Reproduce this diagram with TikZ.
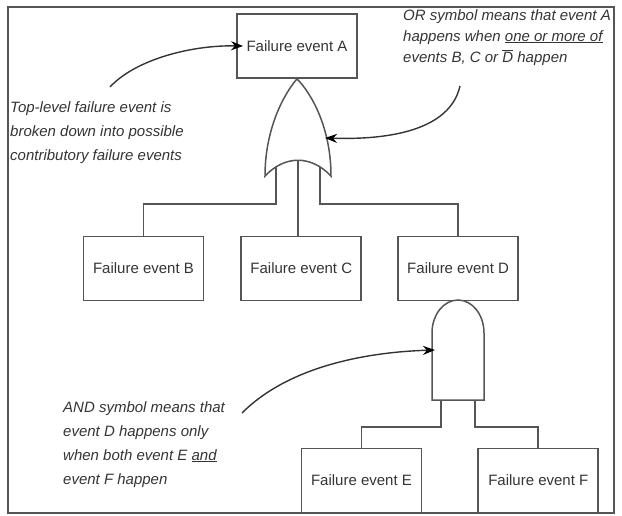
\documentclass[tikz,border=0pt]{standalone}
\usepackage{xcolor}
\usepackage{fontspec}
\setmainfont{Liberation Sans}
\usepackage{tikz}
\usetikzlibrary{arrows.meta,positioning,calc}
\definecolor{inkgray}{RGB}{52,52,52}
\definecolor{linegray}{RGB}{85,85,85}

\begin{document}
\begin{tikzpicture}[
				x = 1pt, y = -1pt,
				event/.style = {draw=linegray, line width=1.8pt, minimum width=120pt, minimum height=64pt, inner sep=0pt, text=inkgray, font=\fontsize{15}{18}\selectfont},
				note/.style = {anchor=north west, align=left, inner sep=0pt, text=inkgray, font=\fontsize{15}{24}\selectfont\itshape},
				gate/.style = {draw=linegray, line width=1.5pt, line join=miter},
				link/.style = {draw=linegray, line width=1.8pt},
				pointer/.style = {draw=inkgray, line width=1.4pt, -{Stealth[length=12pt,width=9pt,color=black]}}
				]
				\useasboundingbox (0,0) rectangle (622,515);
				\draw [draw=linegray, line width=2pt] (8,7) rectangle (614,513);
				
				\node [event] (A) at (297,46) {Failure event A};
				\node [event] (B) at (143.5,268.5) {Failure event B};
				\node [event, right=36pt of B] (C) {Failure event C};
				\node [event, right=35pt of C] (D) {Failure event D};
				\node [event] (E) at (361.5,480.5) {Failure event E};
				\node [event, right=55pt of E] (F) {Failure event F};
				
				\draw [gate] (A.south) .. controls (283,95) and (265,130) .. (265,176) .. controls (285,155) and (311,155) .. (331,176) .. controls (331,130) and (313,95) .. (A.south) -- cycle;
				\coordinate (orL) at (276,167);
				\coordinate (orM) at (298,160.25);
				\coordinate (orR) at (320,167);
				\draw [link] (orL) -- ++(0,37) -| (B.north);
				\draw [link] (orM) -- (orM |- C.north);
				\draw [link] (orR) -- ++(0,37) -| (D.north);
				
				\draw [gate] (432,400) -- (432,333) arc [start angle=180, end angle=0, x radius=26pt, y radius=33pt] -- (484,400) -- cycle;
				\coordinate (andL) at (441,400);
				\coordinate (andR) at (475,400);
				\draw [link] (andL) -- ++(0,27) -| (E.north);
				\draw [link] (andR) -- ++(0,27) -| (F.north);
				
				\node [note] (topnote) at (10,101) {Top-level failure event is\\broken down into possible\\contributory failure events};
				\node [note, font=\fontsize{15}{21}\selectfont\itshape] (ornote) at (403,9) {OR symbol means that event A\\happens when \underline{one or more of}\\events B, C or $\overline{\mbox{D}}$ happen};
				\node [note] (andnote) at (63,401) {AND symbol means that\\event D happens only\\when both event E \underline{and}\\event F happen};
				
				\coordinate (topfrom) at (110,87);
				\coordinate (orfrom) at (460,86);
				\coordinate (orto) at (325,138);
				\coordinate (andfrom) at (242,413);
				\coordinate (andto) at (435,350);
				\draw [pointer] (topfrom) .. controls (135,60) and (190,45) .. ($(A.west)+(7,0)$);
				\draw [pointer] (orfrom) .. controls (450,130) and (390,140) .. (orto);
				\draw [pointer] (andfrom) .. controls (290,365) and (370,352) .. (andto);
			\end{tikzpicture}
\end{document}
